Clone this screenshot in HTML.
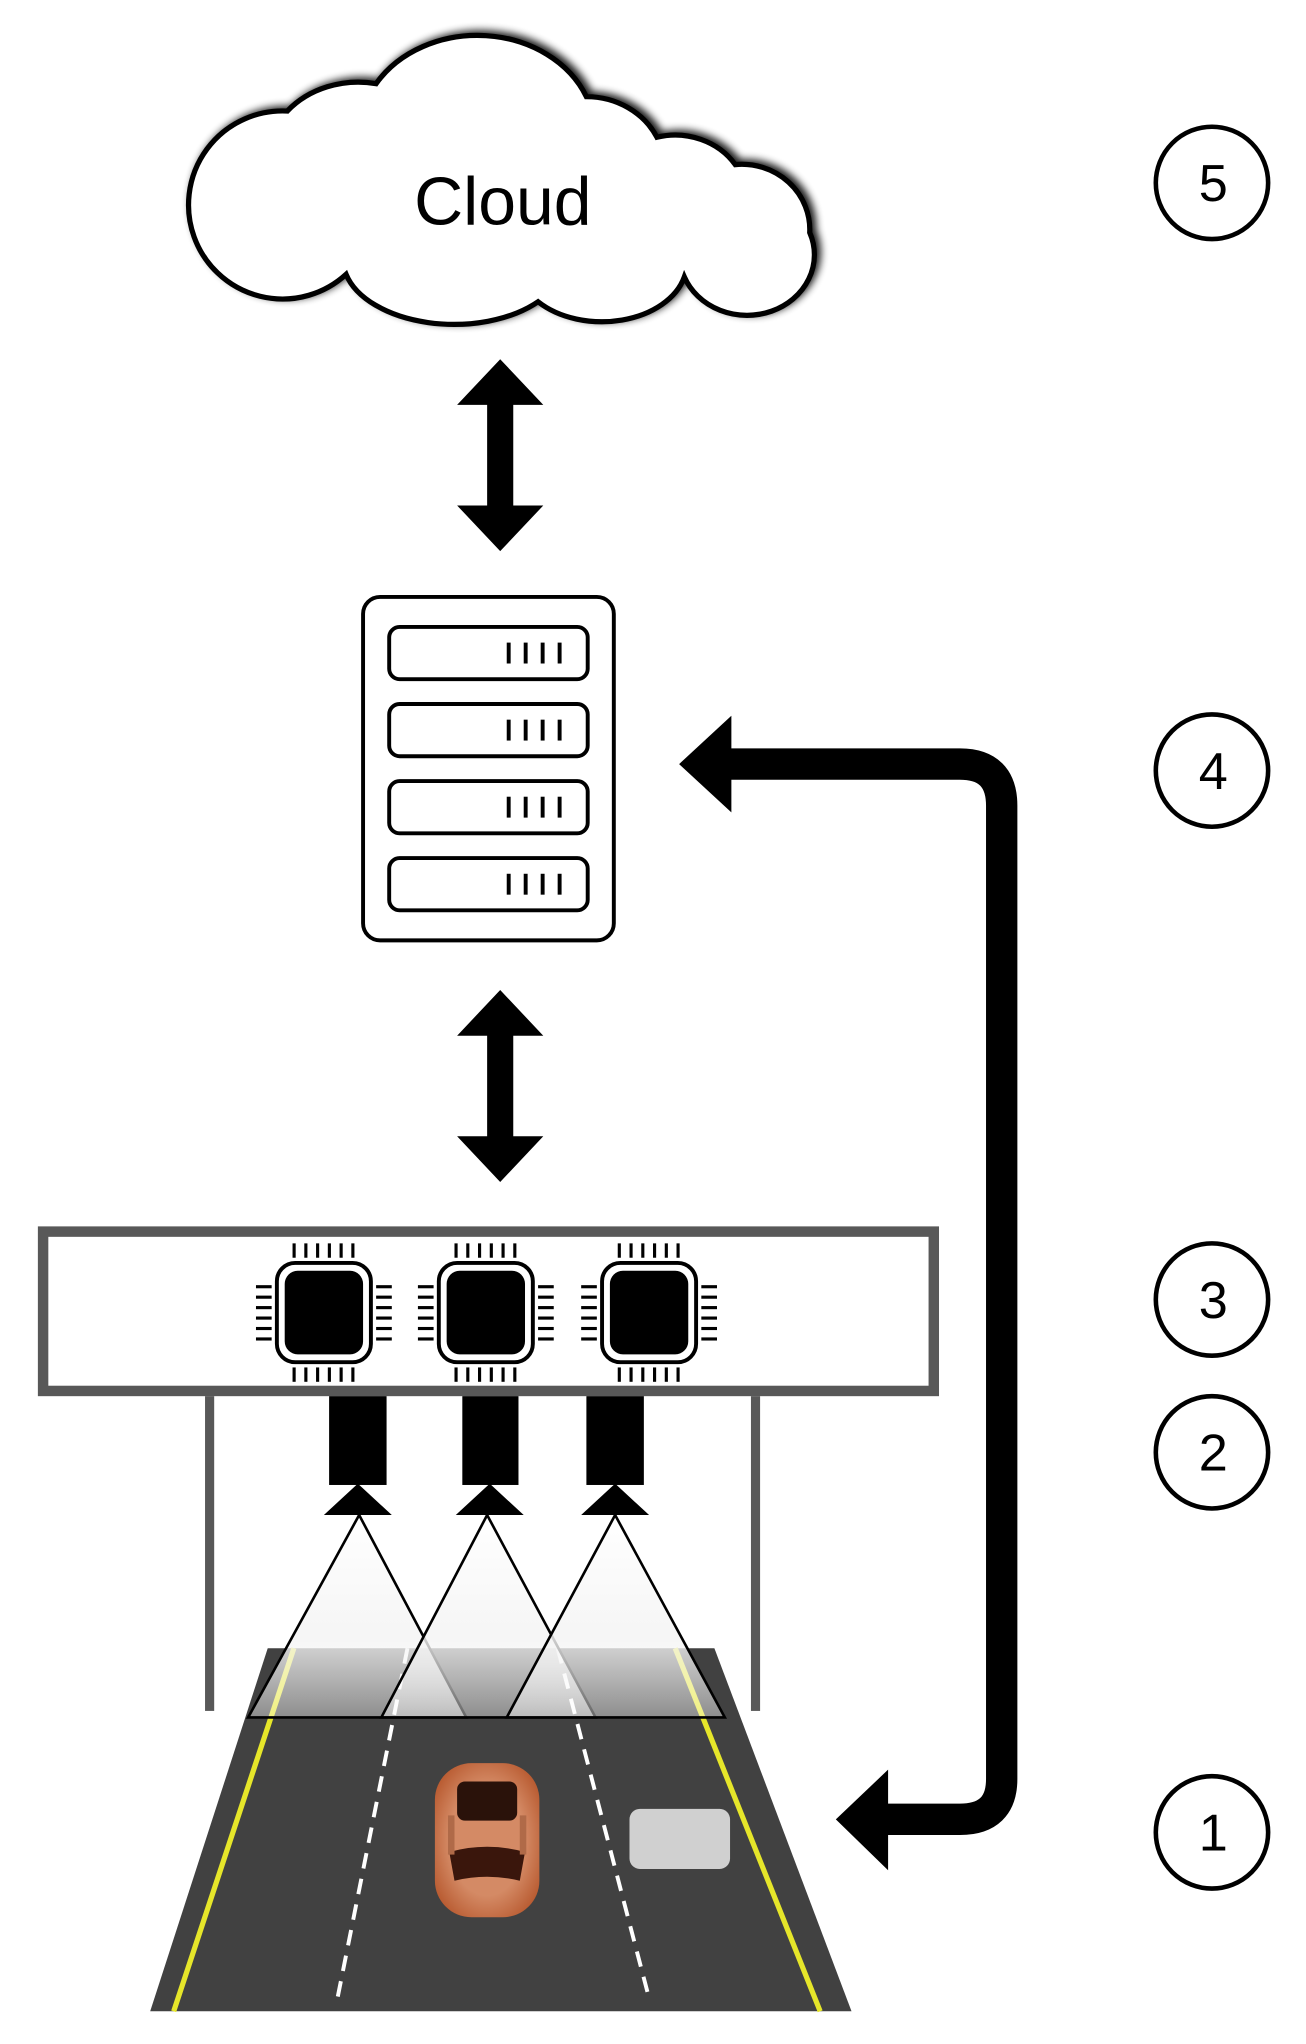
<!DOCTYPE html>
<html><head><meta charset="utf-8"><style>html,body{margin:0;padding:0;background:#fff}svg{display:block}</style></head>
<body>
<svg width="1306" height="2044" viewBox="0 0 1000 1565" xmlns="http://www.w3.org/2000/svg">
<defs>
<filter id="sh" x="-10%" y="-10%" width="130%" height="130%"><feGaussianBlur in="SourceAlpha" stdDeviation="3"/><feOffset dx="3" dy="-2"/><feComponentTransfer><feFuncA type="linear" slope="0.9"/></feComponentTransfer><feMerge><feMergeNode/><feMergeNode in="SourceGraphic"/></feMerge></filter>
<linearGradient id="cone" x1="0" y1="0" x2="0" y2="1"><stop offset="0" stop-color="#fff" stop-opacity="0.95"/><stop offset="0.6" stop-color="#f4f4f4" stop-opacity="0.85"/><stop offset="1" stop-color="#fff" stop-opacity="0.4"/></linearGradient>
<radialGradient id="car" cx="0.5" cy="0.5" r="0.6"><stop offset="0.6" stop-color="#d48a65"/><stop offset="1" stop-color="#b85a30"/></radialGradient>
<g id="chip">
<rect x="-36" y="-38" width="72" height="76" rx="14" fill="#fff" stroke="#000" stroke-width="3"/>
<rect x="-30" y="-32" width="60" height="64" rx="10" fill="#000"/>
<g fill="#000">
<rect x="-24" y="-53" width="2.4" height="11"/><rect x="-15" y="-53" width="2.4" height="11"/><rect x="-6" y="-53" width="2.4" height="11"/><rect x="3" y="-53" width="2.4" height="11"/><rect x="12" y="-53" width="2.4" height="11"/><rect x="21" y="-53" width="2.4" height="11"/>
<rect x="-24" y="42" width="2.4" height="11"/><rect x="-15" y="42" width="2.4" height="11"/><rect x="-6" y="42" width="2.4" height="11"/><rect x="3" y="42" width="2.4" height="11"/><rect x="12" y="42" width="2.4" height="11"/><rect x="21" y="42" width="2.4" height="11"/>
<rect x="-52" y="-21" width="12" height="2.4"/><rect x="-52" y="-13" width="12" height="2.4"/><rect x="-52" y="-5" width="12" height="2.4"/><rect x="-52" y="3" width="12" height="2.4"/><rect x="-52" y="11" width="12" height="2.4"/><rect x="-52" y="19" width="12" height="2.4"/>
<rect x="40" y="-21" width="12" height="2.4"/><rect x="40" y="-13" width="12" height="2.4"/><rect x="40" y="-5" width="12" height="2.4"/><rect x="40" y="3" width="12" height="2.4"/><rect x="40" y="11" width="12" height="2.4"/><rect x="40" y="19" width="12" height="2.4"/>
</g></g>
<g id="slot"><rect x="298" y="0" width="152" height="40" rx="8" fill="#fff" stroke="#000" stroke-width="3"/>
<g fill="#000"><rect x="388" y="12" width="3" height="16"/><rect x="401" y="12" width="3" height="16"/><rect x="414" y="12" width="3" height="16"/><rect x="427" y="12" width="3" height="16"/></g></g>
<path id="darr" d="M0,0 L-33,35 L-10,35 L-10,112 L-33,112 L0,147 L33,112 L10,112 L10,35 L33,35 Z" fill="#000"/>
</defs>

<!-- Cloud -->
<path filter="url(#sh)" d="M265,210 A72 72 0 1 1 220,85 A70 60 0 0 1 288,64 A90 75 0 0 1 449,74 A60 55 0 0 1 503,105 A55 50 0 0 1 563,126 A52 50 0 0 1 620,178 A50 45 0 0 1 524,212 A65 45 0 0 1 412,231 A85 50 0 0 1 265,210 Z" fill="#fff" stroke="#000" stroke-width="4"/>
<text x="385" y="172" font-family="Liberation Sans, sans-serif" font-size="52" text-anchor="middle">Cloud</text>

<use href="#darr" x="383" y="275"/>
<use href="#darr" x="383" y="758"/>

<!-- Server -->
<rect x="278" y="457" width="192" height="263" rx="13" fill="#fff" stroke="#000" stroke-width="3"/>
<use href="#slot" y="480"/><use href="#slot" y="539"/><use href="#slot" y="598"/><use href="#slot" y="657"/>

<!-- Feedback arrow -->
<path d="M555,585 L735,585 Q767,585 767,617 L767,1362 Q767,1393 735,1393 L675,1393" fill="none" stroke="#000" stroke-width="24"/>
<path d="M520,585 L560,548 L560,622 Z" fill="#000"/>
<path d="M640,1393 L680,1355 L680,1432 Z" fill="#000"/>

<!-- Board -->
<rect x="33" y="943" width="682" height="122" fill="#fff" stroke="#585858" stroke-width="8"/>
<use href="#chip" x="248" y="1005"/><use href="#chip" x="372" y="1005"/><use href="#chip" x="497" y="1005"/>
<rect x="157" y="1069" width="7" height="241" fill="#585858"/>
<rect x="575" y="1069" width="7" height="241" fill="#585858"/>

<!-- Cameras -->
<rect x="252" y="1069" width="44" height="68" fill="#000"/>
<rect x="354" y="1069" width="43" height="68" fill="#000"/>
<rect x="449" y="1069" width="44" height="68" fill="#000"/>
<path d="M274,1136 L248,1160 L300,1160Z M375,1136 L349,1160 L401,1160Z M471,1136 L445,1160 L497,1160Z" fill="#000"/>

<!-- Road -->
<path d="M205,1262 L547,1262 L652,1540 L115,1540 Z" fill="#414141"/>
<line x1="225" y1="1262" x2="133" y2="1540" stroke="#e6e62a" stroke-width="4"/>
<line x1="517" y1="1262" x2="628" y2="1540" stroke="#e6e62a" stroke-width="4"/>
<line x1="312" y1="1262" x2="258" y2="1532" stroke="#fff" stroke-width="3" stroke-dasharray="12 8"/>
<line x1="427" y1="1262" x2="497" y2="1530" stroke="#fff" stroke-width="3" stroke-dasharray="12 8"/>
<rect x="482" y="1385" width="77" height="46" rx="8" fill="#d0d0d0"/>

<!-- Car -->
<g>
<rect x="333" y="1350" width="80" height="118" rx="28" fill="url(#car)"/>
<rect x="350" y="1364" width="46" height="30" rx="6" fill="#2a120a"/>
<path d="M344,1418 Q373,1410 402,1418 L398,1440 Q373,1434 348,1440Z" fill="#3a160c"/>
<rect x="343" y="1390" width="5" height="30" fill="#b06a48"/><rect x="398" y="1390" width="5" height="30" fill="#b06a48"/>
</g>

<!-- Cones -->
<g stroke="#000" stroke-width="2">
<path d="M275,1160 L190,1315 L357,1315 Z" fill="url(#cone)"/>
<path d="M373,1160 L292,1315 L456,1315 Z" fill="url(#cone)"/>
<path d="M471,1160 L388,1315 L555,1315 Z" fill="url(#cone)"/>
</g>

<!-- Numbers -->
<g fill="#fff" stroke="#000" stroke-width="3.5">
<circle cx="928" cy="140" r="43"/><circle cx="928" cy="590" r="43"/><circle cx="928" cy="995" r="43"/><circle cx="928" cy="1112" r="43"/><circle cx="928" cy="1403" r="43"/>
</g>
<g font-family="Liberation Sans, sans-serif" font-size="40" text-anchor="middle">
<text x="929" y="154">5</text><text x="929" y="604">4</text><text x="929" y="1009">3</text><text x="929" y="1126">2</text><text x="929" y="1417">1</text>
</g>
</svg>
</body></html>
